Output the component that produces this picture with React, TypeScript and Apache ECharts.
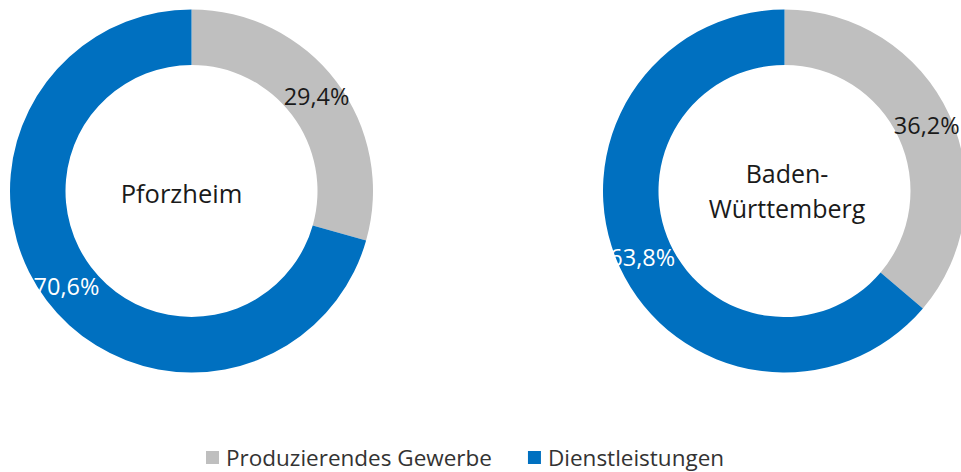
import React, { useEffect, useRef } from "react";
import * as echarts from "echarts";

const categories = ["Produzierendes Gewerbe", "Dienstleistungen"];
const pforzheimValues = [29.4, 70.6];
const bwValues = [36.2, 63.8];
const regionLabels = ["Pforzheim", "Baden-\nWürttemberg"];
const colors = ["#bfbfbf", "#0070c0"];
const labelColors = ["#1a1a1a", "#ffffff"];

const FONT = "'Open Sans', sans-serif";

function makeData(values: number[]) {
  return values.map((v, i) => ({
    name: categories[i],
    value: v,
    itemStyle: { color: colors[i] },
    label: { color: labelColors[i] },
  }));
}

export default function App() {
  const ref = useRef<HTMLDivElement>(null);
  useEffect(() => {
    document.body.style.margin = "0";
    const chart = echarts.init(ref.current!, null, { renderer: "svg" });
    const pieBase = {
      type: "pie",
      radius: [126, 181.5],
      startAngle: 90,
      clockwise: true,
      avoidLabelOverlap: false,
      label: {
        show: true,
        position: "inside",
        fontFamily: FONT,
        fontSize: 23.5,
        formatter: (p: any) => p.value.toFixed(1).replace(".", ",") + "%",
      },
      labelLine: { show: false },
      emphasis: { disabled: true },
      itemStyle: { borderWidth: 0 },
    };
    chart.setOption({
      animation: false,
      legend: {
        data: categories,
        left: 206,
        top: 446,
        padding: 0,
        itemWidth: 13,
        itemHeight: 13,
        itemGap: 36,
        icon: "rect",
        textStyle: {
          fontFamily: FONT,
          fontSize: 22.5,
          lineHeight: 22,
          height: 22,
          color: "#333",
          padding: [0, 0, 0, 2],
        },
      },
      graphic: [
        {
          type: "text",
          x: 181.5,
          y: 193,
          style: {
            text: regionLabels[0],
            font: `25.5px ${FONT}`,
            fill: "#1a1a1a",
            align: "center",
            verticalAlign: "middle",
          },
        },
        {
          type: "text",
          x: 787,
          y: 190,
          style: {
            text: regionLabels[1],
            font: `25px ${FONT}`,
            fill: "#1a1a1a",
            align: "center",
            verticalAlign: "middle",
            lineHeight: 35,
          },
        },
      ],
      series: [
        { ...pieBase, name: regionLabels[0], center: [191.5, 191], data: makeData(pforzheimValues) },
        { ...pieBase, name: regionLabels[1], center: [784.5, 191], data: makeData(bwValues) },
      ],
    });
    return () => chart.dispose();
  }, []);
  return <div ref={ref} style={{ width: 961, height: 472 }} />;
}
